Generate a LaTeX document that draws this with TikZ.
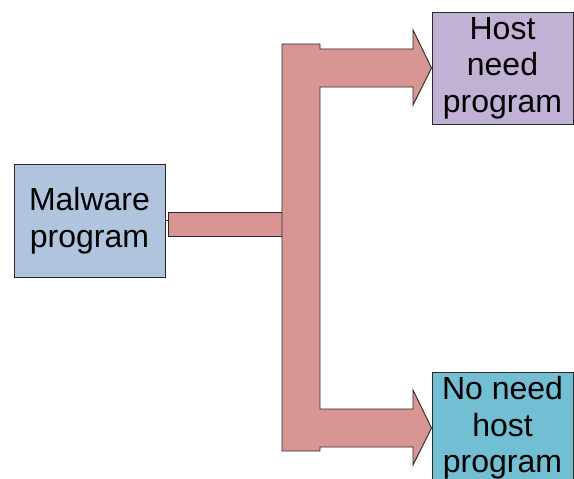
\documentclass[tikz,border=0pt]{standalone}
\usepackage{fontspec}
\setmainfont{Liberation Sans}
\usetikzlibrary{positioning, calc}
\definecolor{cblue}{HTML}{B0C4DE}
\definecolor{cpurple}{HTML}{C0B1D5}
\definecolor{ccyan}{HTML}{72BFD3}
\definecolor{cred}{HTML}{D99594}
\definecolor{cline}{HTML}{2A2A2A}
\tikzset{
  every picture/.style={line width=0.7pt},
  box/.style={draw=cline, fill=#1, align=center, inner sep=0pt, font=\fontsize{24}{27.5}\selectfont},
  box/.default=cblue,
  band/.style={draw=cline, fill=cred, line width=0.7pt, line join=miter},
}

\begin{document}
\begin{tikzpicture}[x=0.75pt, y=-0.75pt]
  \useasboundingbox (0,0) rectangle (574,478);
  % boxes
  \node[box=cblue, minimum width=113.25pt, minimum height=84.75pt] (malware) at (89.5,220.5) {Malware\\program};
  \node[box=cpurple, minimum width=105.75pt, minimum height=84pt] (host) at (502.5,68) {Host\\need\\program};
  \node[box=ccyan, minimum width=105.75pt, minimum height=84pt] (nohost) at (502.5,428) {No need\\host\\program};
  % stub from the malware box
  \draw[cline] (malware.east) -- (168,220.5);
  \draw[band] (168,212) rectangle (282,236);
  % split into two wide arrows
  \draw[band] (282,44) -- (320,44) -- (320,49) -- (413,49) -- (413,30) -- (host.west)
    -- (413,105) -- (413,87) -- (320,87) -- (320,409) -- (413,409) -- (413,390) -- (nohost.west)
    -- (413,465) -- (413,447) -- (320,447) -- (320,451) -- (282,451) -- cycle;
\end{tikzpicture}
\end{document}
